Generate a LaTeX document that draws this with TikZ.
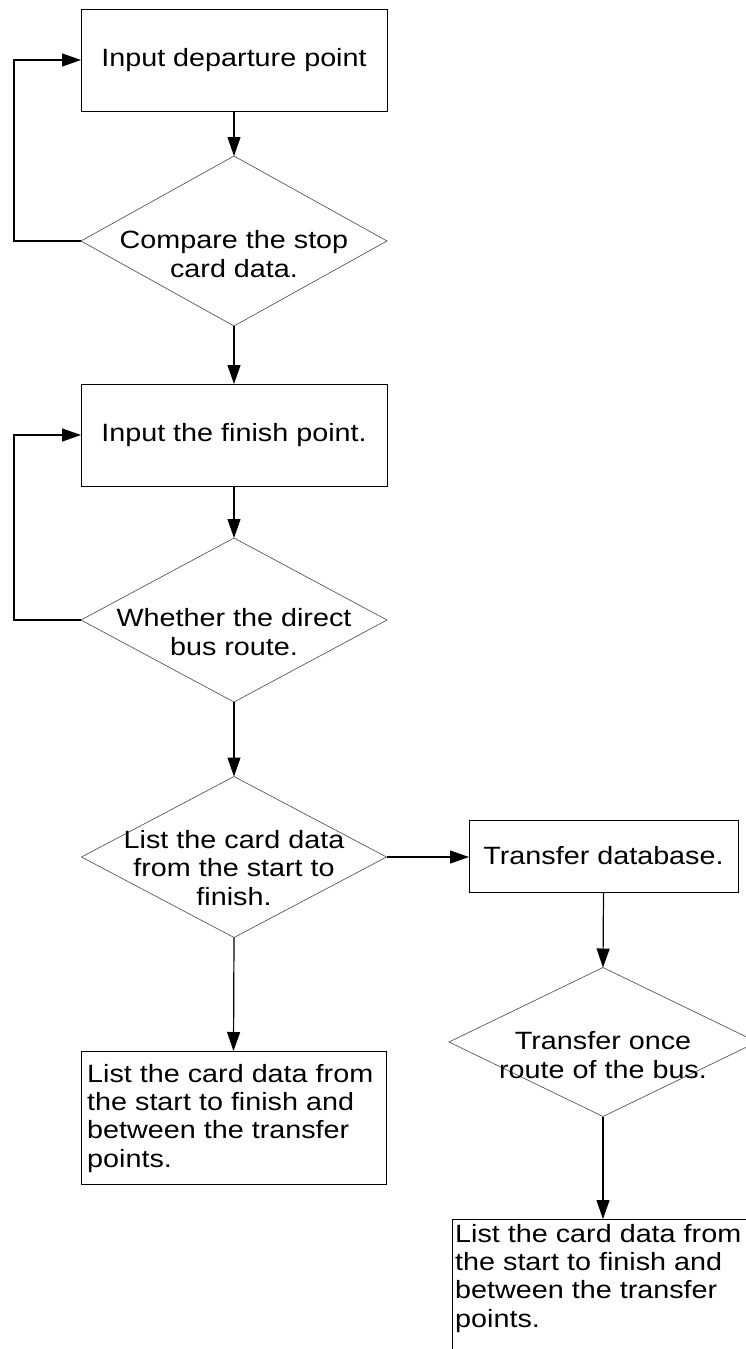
\documentclass[tikz,border=0pt]{standalone}
\usepackage{fontspec}
\setmainfont{Liberation Sans}[FakeStretch=1.15]
\usetikzlibrary{shapes.geometric,arrows.meta}
\begin{document}
\begin{tikzpicture}[x=1pt,y=-1pt,
  txt/.style={font={\fontsize{25}{28.3}\selectfont},inner sep=0pt},
  procbox/.style={draw=black,line width=1pt,rectangle,inner sep=0pt,outer sep=0pt,
    font={\fontsize{25}{28.3}\selectfont}},
  decide/.style={draw=black!65,line width=0.7pt,diamond,inner sep=0pt,outer sep=0pt},
  flow/.style={draw=black,line width=1.2pt,-{Triangle[length=19pt,width=13pt]}}
]
\useasboundingbox (0,0) rectangle (745,1349);

% main column
\node[procbox,minimum width=306pt,minimum height=102pt] (b1) at (234,60) {Input departure point};
\node[decide,minimum width=306pt,minimum height=170pt] (d1) at (234,241) {};
\node[txt,align=center] (t1) at (234,254) {Compare the stop\\card data.};

\node[procbox,minimum width=306pt,minimum height=102pt] (b2) at (234,435) {Input the finish point.};
\node[decide,minimum width=306pt,minimum height=164pt] (d2) at (234,620) {};
\node[txt,align=center] (t2) at (234,632) {Whether the direct\\bus route.};

\node[decide,minimum width=305pt,minimum height=161pt] (d3) at (234,857) {};
\node[txt,align=center] (t3) at (234,868) {List the card data\\from the start to\\finish.};

\node[procbox,minimum width=305pt,minimum height=133pt] (b5) at (233.5,1117.5) {};
\node[txt,align=left,anchor=north west] (t5) at (87,1064)
  {List the card data from\\the start to finish and\\between the transfer\\points.};

% transfer branch
\node[procbox,minimum width=269pt,minimum height=72pt] (b3) at (603.5,856) {Transfer database.};
\node[decide,minimum width=308pt,minimum height=149pt] (d4) at (603,1042) {};
\node[txt,align=center] (t4) at (603,1055) {Transfer once\\route of the bus.};

\node[procbox,minimum width=305pt,minimum height=141pt] (b6) at (604.5,1289.5) {};
\node[txt,align=left,anchor=north west] (t6) at (455,1224)
  {List the card data from\\the start to finish and\\between the transfer\\points.};

% connectors
\draw[flow] (b1.south) -- (d1.north);
\draw[flow] (d1.south) -- (b2.north);
\draw[flow] (b2.south) -- (d2.north);
\draw[flow] (d2.south) -- (d3.north);
\draw[flow] (d3.east) -- (d3.east -| b3.west);
\draw[flow] (b3.south) -- (d4.north);
\draw[flow] (d3.south) -- (b5.north);
\draw[flow] (d4.south) -- (d4.south |- b6.north);

% return loops
\draw[flow] (d1.west) -- ++(-67,0) |- (b1.west);
\draw[flow] (d2.west) -- ++(-67,0) |- (b2.west);
\end{tikzpicture}
\end{document}
